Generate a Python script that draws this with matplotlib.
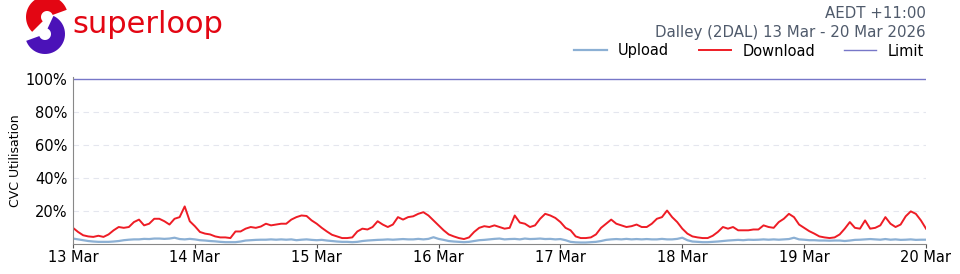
"""
CVC utilisation for Dalley (2DAL), 13-20 Mar 2026 (hourly values read off the source chart).
Writes out.png.
"""
import numpy as np
import pandas as pd
import matplotlib
matplotlib.use("Agg")
import matplotlib.pyplot as plt
import matplotlib.dates as mdates
from matplotlib.patches import Polygon

# ---- data (percent of CVC), one value per hour from 13 Mar 00:00 to 20 Mar 00:00 ----
START = "2026-03-13 00:00"
DOWNLOAD = [9.5, 7, 5, 4.3, 4, 4.7, 4, 5.5, 8, 10, 9.5, 10, 13, 14.5, 11, 12, 15, 15, 13.5, 11.5, 15, 16, 22.5, 13.5,
            10.5, 7, 6, 5.5, 4.3, 3.7, 3.7, 3.3, 7.3, 7.3, 9, 10, 9.5, 10.3, 12, 11, 11.5, 12, 12, 14.5, 16, 17, 16.7, 14,
            12, 9.5, 7.3, 5.3, 4.3, 3.3, 3.3, 3.7, 7.3, 9, 8.5, 10, 13.5, 11.5, 10, 11.5, 16, 14.5, 16, 16.5, 18, 19, 17, 14,
            11, 8, 5.5, 4.3, 3.3, 2.7, 3.7, 7, 9.5, 10.5, 10, 11, 10, 9, 9.5, 17, 12.7, 12, 10, 11, 15, 18, 17, 15.5,
            13, 9.5, 8, 4.3, 3.3, 3.3, 3.7, 5.5, 9.5, 12, 14.5, 12, 11, 10, 10.5, 11.5, 10, 10, 12, 15, 16, 20, 16, 13,
            9, 6, 4.3, 3.7, 3.3, 3.3, 4.7, 7, 10, 9, 10, 8, 8, 8, 8.5, 8.5, 11, 10, 9.5, 13, 15, 18, 16, 11.5,
            9.5, 7.5, 6, 4.3, 3.7, 3.3, 3.7, 5.5, 9, 13, 9.5, 9, 14, 9, 9.5, 11, 16, 12, 10, 11.5, 16.5, 19.5, 18, 14,
            9]
UPLOAD = [3, 2.5, 2, 1.5, 1.2, 1, 1, 1, 1.2, 1.5, 2, 2.3, 2.5, 2.5, 2.8, 2.7, 3, 3, 2.8, 3, 3.5, 2.7, 2.5, 2.8,
          2.5, 2, 1.8, 1.5, 1.3, 1, 0.8, 0.8, 0.8, 1.2, 1.8, 2, 2.2, 2.3, 2.3, 2.5, 2.3, 2.5, 2.3, 2.5, 2, 2.3, 2.5, 2.2,
          2, 2.2, 1.8, 1.5, 1.2, 1, 1, 0.8, 1, 1.5, 1.8, 2, 2.2, 2.3, 2.5, 2.3, 2.5, 2.7, 2.5, 2.5, 2.8, 2.5, 2.8, 3.8,
          2.8, 2.2, 1.5, 1.2, 1, 0.8, 1, 1.5, 2, 2.2, 2.5, 2.8, 3, 2.5, 2.7, 2.8, 2.5, 3, 2.7, 2.8, 3, 2.7, 2.8, 2.5,
          2.7, 2, 1, 0.7, 0.6, 0.6, 0.8, 1, 1.5, 2.2, 2.5, 2.7, 2.5, 2.8, 2.5, 2.7, 2.5, 2.7, 2.5, 2.5, 2.8, 2.5, 2.5, 2.8,
          3.5, 2, 1.2, 1, 0.8, 0.8, 1, 1.2, 1.5, 1.8, 2, 2.2, 2, 2.3, 2.2, 2.3, 2.5, 2.3, 2.5, 2.3, 2.5, 2.7, 3.5, 2.5,
          2.3, 2, 2, 1.8, 1.8, 1.7, 1.8, 1.8, 1.5, 1.8, 2.2, 2.3, 2.5, 2.7, 2.5, 2.3, 2.7, 2.3, 2.5, 2.2, 2.3, 2.5, 2.2, 2.3,
          2.3]
LIMIT = 100
YTICKS = [20, 40, 60, 80, 100]
TITLE_TZ = "AEDT +11:00"
TITLE_SITE = "Dalley (2DAL) 13 Mar - 20 Mar 2026"

C_UP, C_DOWN, C_LIM = "#8cb0d4", "#ee1c25", "#5555bb"
C_HEAD = "#4f5a6b"

t = pd.date_range(START, periods=len(DOWNLOAD), freq="h")

W, H = 960, 274
fig = plt.figure(figsize=(W/100, H/100), dpi=100)
ax = fig.add_axes([73/W, 1-243.5/H, (926-73)/W, (243.5-77)/H])

ax.plot(t, UPLOAD, color=C_UP, lw=1.6, label="Upload")
ax.plot(t, DOWNLOAD, color=C_DOWN, lw=1.4, label="Download")
ax.axhline(LIMIT, color=C_LIM, lw=1.0, alpha=0.8, label="Limit")

ax.set_xlim(t[0], t[-1]); ax.set_ylim(0, 101)
ax.set_yticks(YTICKS); ax.set_yticklabels([f"{v}%" for v in YTICKS], fontsize=10.5)
for v in YTICKS[:-1]:
    ax.axhline(v, color="#e4e6ee", lw=0.8, ls=(0, (5, 4)), zorder=0)
ax.xaxis.set_major_locator(mdates.DayLocator())
ax.xaxis.set_major_formatter(mdates.DateFormatter("%d %b"))
ax.tick_params(axis="x", labelsize=10.5, length=3, color="#555555", pad=2)
ax.tick_params(axis="y", length=0, pad=4)
ax.set_ylabel("CVC Utilisation", fontsize=9, labelpad=3)
for s in ("top", "right"): ax.spines[s].set_visible(False)
for s in ("left", "bottom"): ax.spines[s].set_color("#888888")

# header text + legend, right aligned with the plot edge
fig.text(926/W, 1-14/H, TITLE_TZ, ha="right", va="center", fontsize=10.8, color=C_HEAD)
fig.text(926/W, 1-32/H, TITLE_SITE, ha="right", va="center", fontsize=10.8, color=C_HEAD)
h, l = ax.get_legend_handles_labels()
fig.legend(h, l, loc="center right", bbox_to_anchor=(930/W, 1-51/H), ncol=3, frameon=False,
           fontsize=10.5, handlelength=2.2, handletextpad=0.8, columnspacing=2.0, borderaxespad=0)

# logo: two half rings + wordmark
lg = fig.add_axes([0, 0, 1, 1]); lg.set_xlim(0, W); lg.set_ylim(H, 0); lg.axis("off")
def ring(cx, cy, r0, r1, a0, a1):
    a = np.radians(np.linspace(a0, a1, 40))
    outer = np.c_[cx + r1*np.cos(a), cy - r1*np.sin(a)]
    inner = np.c_[cx + r0*np.cos(a[::-1]), cy - r0*np.sin(a[::-1])]
    return np.vstack([outer, inner])
lg.add_patch(Polygon(ring(45, 34, 6, 20, -160, 65), color="#4b12b8", lw=0))
lg.add_patch(Polygon(ring(47, 17, 6, 21, 20, 225), color="#e30613", lw=0))
lg.text(72, 33, "superloop", fontsize=22, color="#e30613", ha="left", va="baseline")

fig.savefig("out.png", dpi=100)
